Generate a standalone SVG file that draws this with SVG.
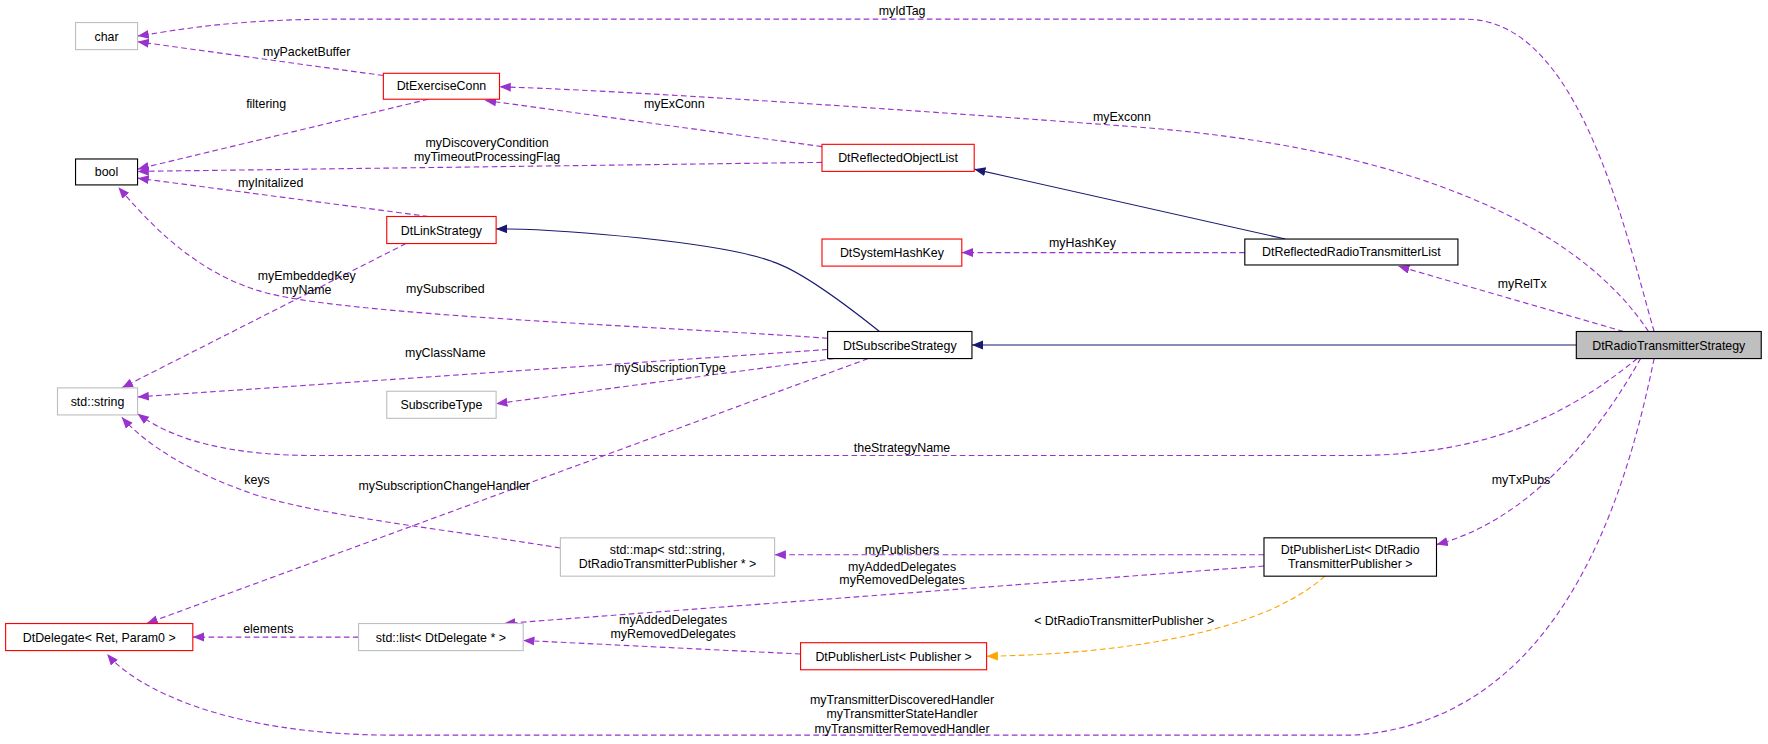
<svg xmlns="http://www.w3.org/2000/svg" width="1768" height="744" viewBox="0 0 1768 744">
<style>
.n rect{stroke-width:1}
.blk rect{fill:#fff;stroke:#000}
.red rect{fill:#fff;stroke:#ff0000}
.gry rect{fill:#fff;stroke:#bfbfbf}
text{font-family:"Liberation Sans",Arial,sans-serif;font-size:11px;fill:#000;text-anchor:middle}
.e path{fill:none}
.u{stroke:#9a32cd;stroke-dasharray:5,3;marker-end:url(#mp)}
.i{stroke:#191970;marker-end:url(#mn)}
.t{stroke:#ffa500;stroke-dasharray:5,3;marker-end:url(#mo)}
</style>
<defs>
<marker id="mp" markerUnits="userSpaceOnUse" markerWidth="12" markerHeight="10" refX="10" refY="4" orient="auto"><path d="M0,0 L10,4 L0,8 z" fill="#9a32cd"/></marker>
<marker id="mn" markerUnits="userSpaceOnUse" markerWidth="12" markerHeight="10" refX="10" refY="4" orient="auto"><path d="M0,0 L10,4 L0,8 z" fill="#191970"/></marker>
<marker id="mo" markerUnits="userSpaceOnUse" markerWidth="12" markerHeight="10" refX="10" refY="4" orient="auto"><path d="M0,0 L10,4 L0,8 z" fill="#ffa500"/></marker>
</defs>
<rect width="1768" height="744" fill="#fff"/>
<g transform="scale(1.12755)">
<g id="edges" class="e">
<path class="u" d="M1467,294 C1440,200 1400,17 1300,17 L300,17 C200,17 150,28 122,32"/>
<text x="800" y="13">myIdTag</text>
<path class="u" d="M340,67 L122,37"/>
<text x="272" y="50">myPacketBuffer</text>
<path class="u" d="M1462,294 C1400,200 1250,130 1000,112 C800,97 550,80 443,77"/>
<text x="995" y="107">myExconn</text>
<path class="u" d="M380,88 L122,150"/>
<text x="236" y="96">filtering</text>
<path class="u" d="M729,130 L430,89"/>
<text x="598" y="96">myExConn</text>
<path class="u" d="M729,144 L122,152"/>
<text x="432" y="130">myDiscoveryCondition</text>
<text x="432" y="143">myTimeoutProcessingFlag</text>
<path class="u" d="M380,192 L122,158"/>
<text x="240" y="166">myInitalized</text>
<path class="i" d="M1140,212 L864,150"/>
<path class="u" d="M1104,224 L853,224"/>
<text x="960" y="219">myHashKey</text>
<path class="u" d="M1440,294 L1240,236"/>
<text x="1350" y="255">myRelTx</text>
<path class="i" d="M1398,306 L862,306"/>
<path class="i" d="M780,294 C750,270 710,240 685,232 C640,215 500,203 440,203"/>
<path class="u" d="M734,300 C600,290 300,280 230,258 C170,240 130,195 105,166"/>
<text x="395" y="260">mySubscribed</text>
<path class="u" d="M360,216 L108,344"/>
<text x="272" y="248">myEmbeddedKey</text>
<text x="272" y="261">myName</text>
<path class="u" d="M734,310 L122,352"/>
<text x="395" y="317">myClassName</text>
<path class="u" d="M740,318 L440,358"/>
<text x="594" y="330">mySubscriptionType</text>
<path class="u" d="M1452,318 C1400,360 1330,404 1200,404 L280,404 C180,404 140,380 122,367"/>
<text x="800" y="401">theStrategyName</text>
<path class="u" d="M770,318 L130,553"/>
<text x="394" y="435">mySubscriptionChangeHandler</text>
<path class="u" d="M497,486 C400,470 300,460 230,440 C170,420 130,395 108,370"/>
<text x="228" y="429">keys</text>
<path class="u" d="M1455,318 C1420,380 1360,460 1274,483"/>
<text x="1349" y="429">myTxPubs</text>
<path class="u" d="M1121,492 L687,492"/>
<text x="800" y="491">myPublishers</text>
<path class="u" d="M1121,502 L447,553"/>
<text x="800" y="506">myAddedDelegates</text>
<text x="800" y="518">myRemovedDelegates</text>
<path class="u" d="M318,565 L171,565"/>
<text x="238" y="561">elements</text>
<path class="u" d="M710,580 L464,568"/>
<text x="597" y="553">myAddedDelegates</text>
<text x="597" y="566">myRemovedDelegates</text>
<path class="t" d="M1175,511 C1120,560 1000,580 875,582"/>
<text x="997" y="554">&lt; DtRadioTransmitterPublisher &gt;</text>
<path class="u" d="M1467,318 C1440,450 1380,640 1200,652 L350,652 C200,652 120,610 95,580"/>
<text x="800" y="624">myTransmitterDiscoveredHandler</text>
<text x="800" y="637">myTransmitterStateHandler</text>
<text x="800" y="650">myTransmitterRemovedHandler</text>
</g>
<g id="char" class="n gry"><rect x="67" y="20" width="55" height="24"/><text x="94.5" y="36">char</text></g>
<g id="bool" class="n blk"><rect x="67" y="141" width="55" height="23"/><text x="94.5" y="156">bool</text></g>
<g id="stdstring" class="n gry"><rect x="51" y="344" width="71" height="24"/><text x="86.5" y="360">std::string</text></g>
<g id="DtDelegate" class="n red"><rect x="5" y="553" width="166" height="24"/><text x="88" y="569">DtDelegate&lt; Ret, Param0 &gt;</text></g>
<g id="DtExerciseConn" class="n red"><rect x="340" y="65" width="103" height="23"/><text x="391.5" y="80">DtExerciseConn</text></g>
<g id="DtReflectedObjectList" class="n red"><rect x="729" y="128" width="135" height="24"/><text x="796.5" y="144">DtReflectedObjectList</text></g>
<g id="DtLinkStrategy" class="n red"><rect x="343" y="192" width="97" height="24"/><text x="391.5" y="208">DtLinkStrategy</text></g>
<g id="DtSystemHashKey" class="n red"><rect x="729" y="212" width="124" height="24"/><text x="791" y="228">DtSystemHashKey</text></g>
<g id="DtReflectedRadioTransmitterList" class="n blk"><rect x="1104" y="212" width="189" height="23"/><text x="1198.5" y="227">DtReflectedRadioTransmitterList</text></g>
<g id="DtSubscribeStrategy" class="n blk"><rect x="734" y="294" width="128" height="24"/><text x="798" y="310">DtSubscribeStrategy</text></g>
<g id="SubscribeType" class="n gry"><rect x="343" y="347" width="97" height="24"/><text x="391.5" y="363">SubscribeType</text></g>
<g id="DtRadioTransmitterStrategy" class="n"><rect x="1398" y="294" width="164" height="24" fill="#bfbfbf" stroke="#000"/><text x="1480" y="310">DtRadioTransmitterStrategy</text></g>
<g id="stdmap" class="n gry"><rect x="497" y="477" width="190" height="34"/><text x="592" y="491">std::map&lt; std::string,</text><text x="592" y="504">DtRadioTransmitterPublisher * &gt;</text></g>
<g id="DtPublisherListRadio" class="n blk"><rect x="1121" y="477" width="153" height="34"/><text x="1197.5" y="491">DtPublisherList&lt; DtRadio</text><text x="1197.5" y="504">TransmitterPublisher &gt;</text></g>
<g id="stdlist" class="n gry"><rect x="318" y="553" width="146" height="24"/><text x="391" y="569">std::list&lt; DtDelegate * &gt;</text></g>
<g id="DtPublisherList" class="n red"><rect x="710" y="570" width="165" height="24"/><text x="792.5" y="586">DtPublisherList&lt; Publisher &gt;</text></g>
</g>
</svg>
